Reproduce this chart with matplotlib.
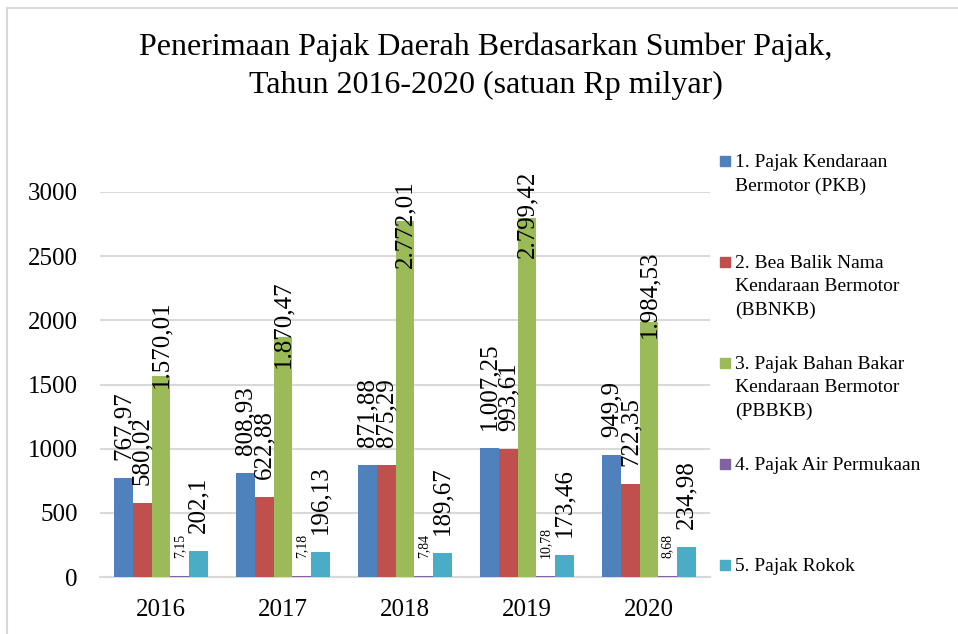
import matplotlib.pyplot as plt
from matplotlib.patches import Rectangle
import numpy as np

plt.rcParams['font.family'] = ['Liberation Serif', 'DejaVu Serif']

# --- Daten ---
years = ['2016', '2017', '2018', '2019', '2020']
series_names = [
    '1. Pajak Kendaraan\nBermotor (PKB)',
    '2. Bea Balik Nama\nKendaraan Bermotor\n(BBNKB)',
    '3. Pajak Bahan Bakar\nKendaraan Bermotor\n(PBBKB)',
    '4. Pajak Air Permukaan',
    '5. Pajak Rokok',
]
pkb = [767.97, 808.93, 871.88, 1007.25, 949.9]
bbnkb = [580.02, 622.88, 875.29, 993.61, 722.35]
pbbkb = [1570.01, 1870.47, 2772.01, 2799.42, 1984.53]
pap = [7.15, 7.18, 7.84, 10.78, 8.68]
rokok = [202.1, 196.13, 189.67, 173.46, 234.98]

pkb_lbl = ['767,97', '808,93', '871,88', '1.007,25', '949,9']
bbnkb_lbl = ['580,02', '622,88', '875,29', '993,61', '722,35']
pbbkb_lbl = ['1.570,01', '1.870,47', '2.772,01', '2.799,42', '1.984,53']
pap_lbl = ['7,15', '7,18', '7,84', '10,78', '8,68']
rokok_lbl = ['202,1', '196,13', '189,67', '173,46', '234,98']

colors = ['#4f81bd', '#c0504d', '#9bbb59', '#8064a2', '#4bacc6']
all_vals = [pkb, bbnkb, pbbkb, pap, rokok]
all_lbls = [pkb_lbl, bbnkb_lbl, pbbkb_lbl, pap_lbl, rokok_lbl]
lbl_sizes = [18, 18, 18, 10, 18]
# Beschriftungen der PBBKB-Balken sind im Original nach unten verschoben (pt)
pbbkb_drop = [22, 35, 47, 42, 24]

W, H = 958, 634
fig = plt.figure(figsize=(W / 100, H / 100), dpi=100)
ax = fig.add_axes([100 / W, 1 - 577 / H, 610 / W, 385 / H])

x = np.arange(len(years))
bw = 0.153
for i, (vals, lbls, col) in enumerate(zip(all_vals, all_lbls, colors)):
    xs = x + (i - 2) * bw
    ax.bar(xs, vals, width=bw, color=col, zorder=3)
    for j, (xx, v, t) in enumerate(zip(xs, vals, lbls)):
        off = 13
        if i == 2:
            off = 13 - pbbkb_drop[j]
        ax.annotate(t, (xx, v), xytext=(0, off), textcoords='offset points',
                    rotation=90, ha='center', va='bottom',
                    fontsize=lbl_sizes[i], clip_on=False, zorder=4)

ax.set_xlim(-0.5, 4.5)
ax.set_ylim(0, 3000)
ax.set_yticks(range(0, 3001, 500))
ax.set_xticks(x)
ax.set_xticklabels(years)
ax.tick_params(axis='both', length=0, labelsize=18)
ax.tick_params(axis='y', pad=16)
ax.tick_params(axis='x', pad=16)
ax.grid(axis='y', color='#d9d9d9', lw=1.5, zorder=0)
for s in ['top', 'right', 'left']:
    ax.spines[s].set_visible(False)
ax.spines['bottom'].set_color('#d9d9d9')
ax.spines['bottom'].set_linewidth(1.5)

fig.text(0.507, 1 - 32 / H,
         'Penerimaan Pajak Daerah Berdasarkan Sumber Pajak,\nTahun 2016-2020 (satuan Rp milyar)',
         ha='center', va='top', fontsize=23, linespacing=1.42)

# Legende
for k, (name, col) in enumerate(zip(series_names, colors)):
    base = 167 + k * 101
    fig.add_artist(Rectangle((720 / W, 1 - (base - 1) / H), 10 / W, 10 / H,
                             transform=fig.transFigure, color=col))
    fig.text(735 / W, 1 - (base - 13) / H, name, ha='left', va='top',
             fontsize=14, linespacing=1.48)

# Rahmen
fig.add_artist(Rectangle((7 / W, -0.1), 2, 1 - 8 / H + 0.1, transform=fig.transFigure,
                         fill=False, edgecolor='#d9d9d9', lw=1.5))

fig.savefig('out.png', dpi=100)
